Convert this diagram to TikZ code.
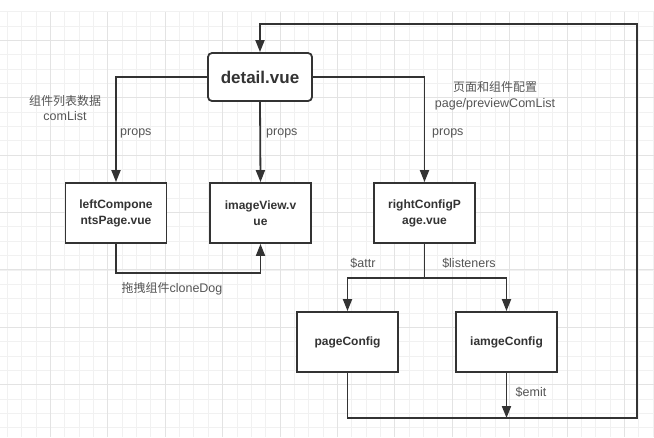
\documentclass[tikz,border=0pt]{standalone}
\usepackage{fontspec}
\setmainfont{Liberation Sans}
\newfontfamily\cjk{Noto Sans CJK SC}
\usetikzlibrary{arrows.meta}
\definecolor{linec}{HTML}{333333}
\definecolor{labc}{HTML}{555555}
\definecolor{gridminor}{HTML}{F1F1F1}
\definecolor{gridmajor}{HTML}{E3E3E3}
\tikzset{
  box/.style={draw=linec, line width=1.8pt, fill=white, text=linec, font=\fontsize{12}{16}\selectfont\bfseries, align=center, minimum width=101pt, minimum height=60pt, inner sep=0pt},
  mainbox/.style={box, rounded corners=4pt, minimum width=104pt, minimum height=48pt, font=\fontsize{17}{20}\selectfont\bfseries},
  conn/.style={draw=linec, line width=1.8pt},
  arr/.style={conn, -{Triangle[length=12pt,width=9pt]}},
  lab/.style={text=labc, font=\fontsize{12.5}{15.5}\selectfont, inner sep=0pt, align=center}
}
\begin{document}
\begin{tikzpicture}[x=1pt,y=-1pt]
\useasboundingbox (0,0) rectangle (654,437);
\fill[white] (0,0) rectangle (654,437);
% grid
\foreach \i in {0,...,45} {
  \pgfmathsetmacro{\xx}{7.3+14.35*\i}
  \draw[gridminor, line width=0.8pt] (\xx,12) -- (\xx,437);
}
\foreach \j in {0,...,29} {
  \pgfmathsetmacro{\yy}{11.6+14.35*\j}
  \draw[gridminor, line width=0.8pt] (0,\yy) -- (654,\yy);
}
\foreach \i in {0,...,11} {
  \pgfmathsetmacro{\xx}{50.35+57.4*\i}
  \draw[gridmajor, line width=0.9pt] (\xx,12) -- (\xx,437);
}
\foreach \j in {0,...,7} {
  \pgfmathsetmacro{\yy}{40.3+57.4*\j}
  \draw[gridmajor, line width=0.9pt] (0,\yy) -- (654,\yy);
}
% nodes
\node[mainbox] (detail) at (260,77) {detail.vue};
\node[box] (left) at (116,213) {leftCompone\\ntsPage.vue};
\node[box] (image) at (260.5,213) {imageView.v\\ue};
\node[box] (right) at (424.5,213) {rightConfigP\\age.vue};
\node[box] (page) at (347.5,342) {pageConfig};
\node[box] (iamge) at (506.5,342) {iamgeConfig};
% connectors
\draw[arr] (detail.west) -| (left.north);
\draw[arr] (detail.south) -- (image.north);
\draw[arr] (detail.east) -| (right.north);
\draw[arr] (left.south) -- ++(0,29) -| (image.south);
\coordinate (split) at (424.5,278);
\draw[conn] (right.south) -- (split);
\draw[arr] (split) -| (page.north);
\draw[arr] (split) -| (iamge.north);
\coordinate (loopA) at (347.5,418);
\coordinate (loopB) at (637,418);
\coordinate (loopC) at (637,24);
\draw[arr] (page.south) -- (loopA) -- (loopB) -- (loopC) -| (detail.north);
\draw[arr] (iamge.south) -- (iamge.south |- loopA);
% labels
\node[lab] (l1) at (65,108) {{\cjk\fontsize{12}{15.5}\selectfont 组件列表数据}\\comList};
\node[lab, anchor=west] (p1) at (120,133) {props};
\node[lab, anchor=west] (p2) at (266,133) {props};
\node[lab, anchor=west] (p3) at (432,133) {props};
\node[lab] (l2) at (495,96) {{\cjk\fontsize{12}{15.5}\selectfont 页面和组件配置}\\page/previewComList};
\node[lab] (l3) at (172,289) {{\cjk\fontsize{12}{15.5}\selectfont 拖拽组件}cloneDog};
\node[lab] (l4) at (363,263) {\$attr};
\node[lab] (l5) at (469,263) {\$listeners};
\node[lab] (l6) at (531,392) {\$emit};
\end{tikzpicture}
\end{document}
